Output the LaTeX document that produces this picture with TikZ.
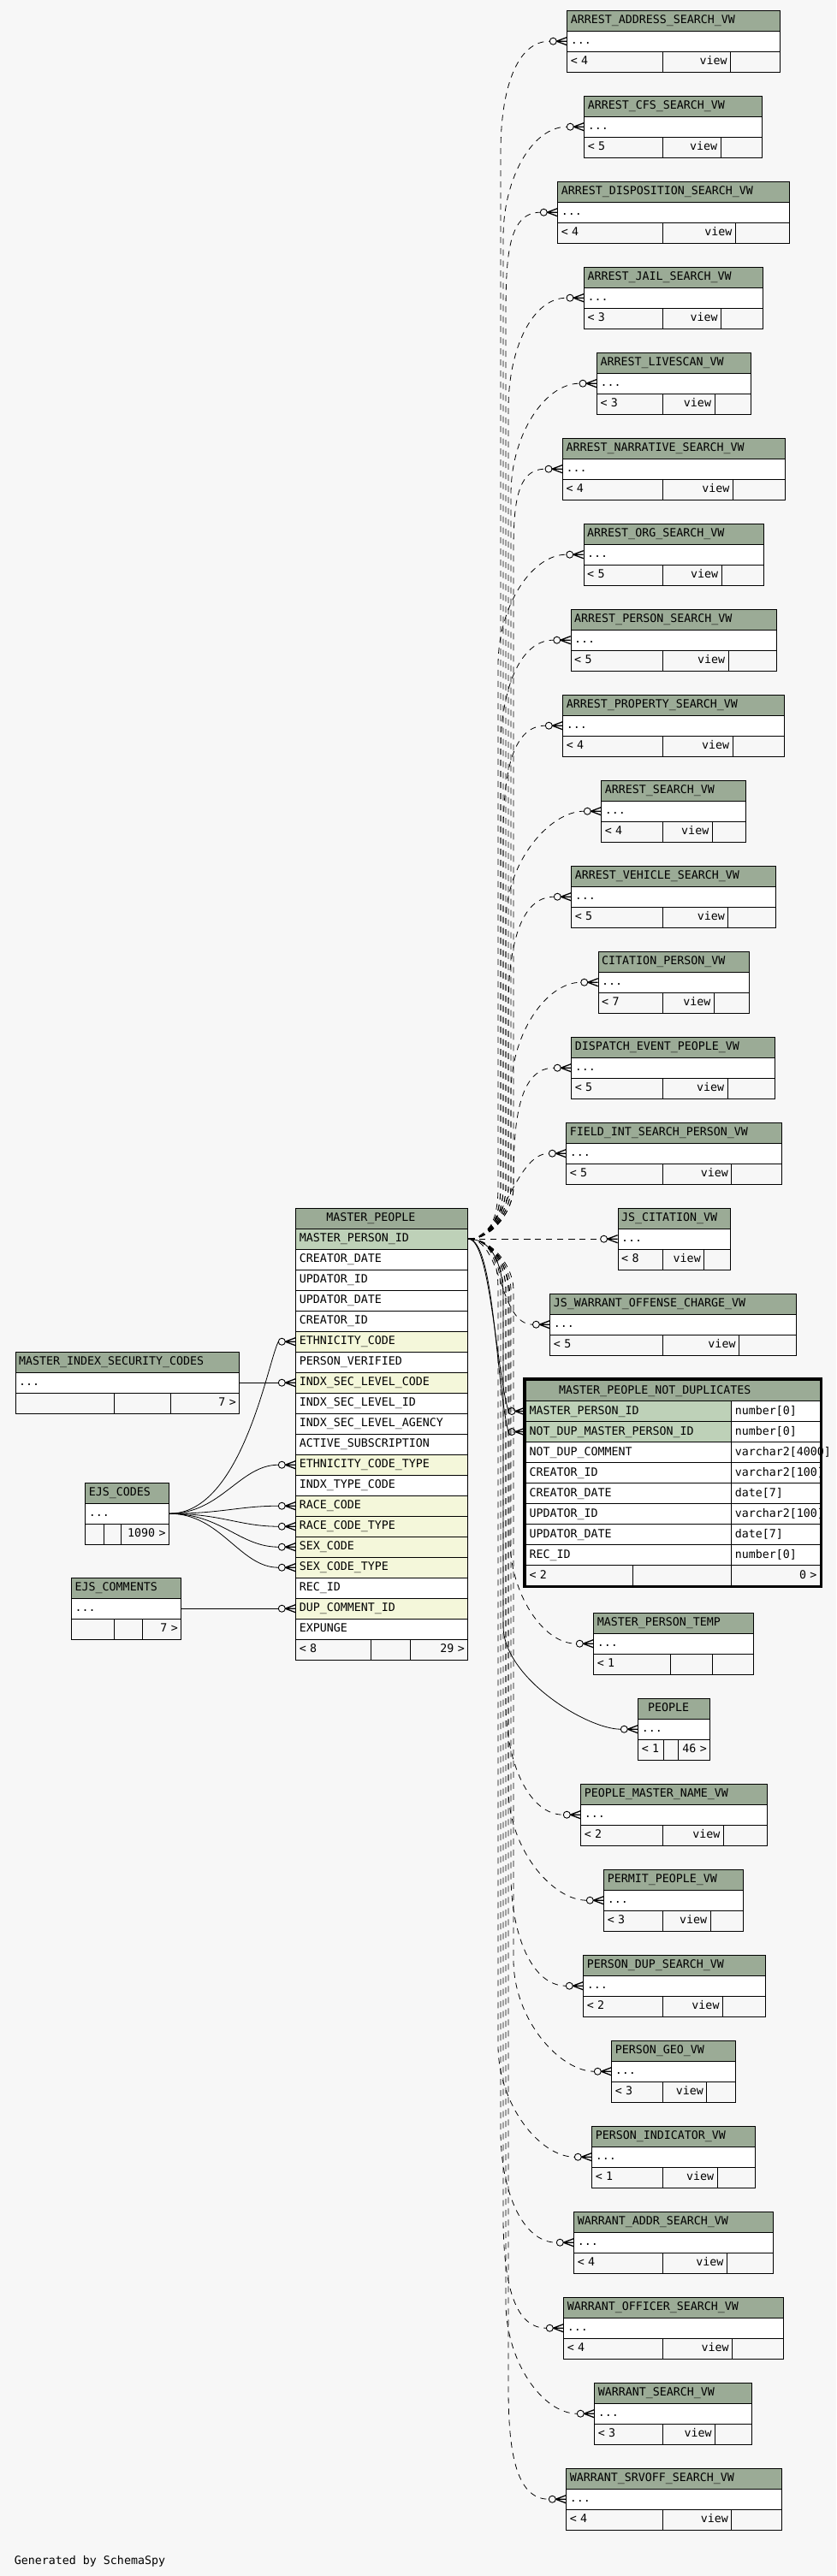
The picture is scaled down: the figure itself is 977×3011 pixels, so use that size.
\documentclass[tikz,border=0pt]{standalone}
\usepackage{fontspec}
\newfontfamily\spyfont{DejaVu Sans Mono}
\definecolor{pagebg}{HTML}{F7F7F7}
\definecolor{headbg}{HTML}{9BAB96}
\definecolor{keybg}{HTML}{BED1B8}
\definecolor{idxbg}{HTML}{F4F7DA}

\def \rowh {24}
\def \srcy {1447.7}

\tikzset{
  cell/.style={draw, line width=1pt, anchor=north west, inner xsep=4pt, inner ysep=0pt,
    minimum height=\rowh, text height=10pt, text depth=3pt, align=left,
    font=\spyfont\fontsize{13.3}{15}\selectfont},
  head/.style={cell, fill=headbg},
  body/.style={cell, fill=white},
  foot/.style={cell, fill=pagebg},
  fk/.style={line width=0.8pt},
  implied/.style={line width=0.8pt, dash pattern=on 7pt off 6pt},
  crowodot/.pic={
    \draw[line width=0.9pt, fill=pagebg] (-16,0) circle[radius=4];
    \draw[line width=1.3pt] (-12,0) -- (0,-4.5) (-12,0) -- (0,0) (-12,0) -- (0,4.5);
  }
}

\newcommand{\tblhead}[5]{\pgfmathsetmacro{\tw}{#4-8}%
  \node[head, text width=\tw pt] (#1) at (#2,#3) {#5};}
\newcommand{\tbldots}[4]{\pgfmathsetmacro{\tw}{#4-8}%
  \node[body, text width=\tw pt] (#1-dots) at (#2,#3+\rowh) {...};}
\newcommand{\footrow}[9]{%
  \pgfmathsetmacro{\wa}{#4-#3-8}\pgfmathsetmacro{\wb}{#5-#4-8}\pgfmathsetmacro{\wc}{#6-#5-8}%
  \node[foot, text width=\wa pt] (#1-f1) at (#3,#2) {#7};
  \node[foot, text width=\wb pt, align=right] (#1-f2) at (#4,#2) {#8};
  \node[foot, text width=\wc pt, align=right] (#1-f3) at (#5,#2) {#9};}

\begin{document}
\begin{tikzpicture}[x=1pt, y=-1pt]
\useasboundingbox (0,0) rectangle (977,3011);
\fill[pagebg] (0,0) rectangle (977,3011);

% MASTER_PEOPLE
\node[head, text width=193pt] (mp) at (345.3,1411.7) {\hspace*{31.5pt}MASTER\_PEOPLE};
\foreach \cname/\cfill [count=\k] in {MASTER\_PERSON\_ID/keybg, CREATOR\_DATE/white, UPDATOR\_ID/white,
  UPDATOR\_DATE/white, CREATOR\_ID/white, ETHNICITY\_CODE/idxbg, PERSON\_VERIFIED/white,
  INDX\_SEC\_LEVEL\_CODE/idxbg, INDX\_SEC\_LEVEL\_ID/white, INDX\_SEC\_LEVEL\_AGENCY/white,
  ACTIVE\_SUBSCRIPTION/white, ETHNICITY\_CODE\_TYPE/idxbg, INDX\_TYPE\_CODE/white,
  RACE\_CODE/idxbg, RACE\_CODE\_TYPE/idxbg, SEX\_CODE/idxbg, SEX\_CODE\_TYPE/idxbg,
  REC\_ID/white, DUP\_COMMENT\_ID/idxbg, EXPUNGE/white}
  \node[cell, fill=\cfill, text width=193pt] (mp-\k) at (345.3,1411.7+\rowh*\k) {\cname};
\footrow{mp}{1915.7}{345.3}{433.2}{479.3}{546.3}{< 8}{}{29 >}

% tables on the left
\tblhead{misc}{17.5}{1579.7}{261.8}{MASTER\_INDEX\_SECURITY\_CODES}
\tbldots{misc}{17.5}{1579.7}{261.8}
\footrow{misc}{1627.7}{17.5}{133.2}{199.3}{279.3}{}{}{7 >}
\tblhead{ejsc}{99.3}{1732.7}{97.8}{EJS\_CODES}
\tbldots{ejsc}{99.3}{1732.7}{97.8}
\footrow{ejsc}{1780.7}{99.3}{121.4}{141.4}{197.1}{}{}{1090 >}
\tblhead{ejsm}{83.2}{1843.7}{128.2}{EJS\_COMMENTS}
\tbldots{ejsm}{83.2}{1843.7}{128.2}
\footrow{ejsm}{1891.7}{83.2}{133.2}{166.4}{211.4}{}{}{7 >}

\draw[fk] (misc-dots.east) -- ([xshift=-20pt]mp-8.west);
\draw[fk] (ejsm-dots.east) -- ([xshift=-20pt]mp-19.west);
\draw[fk] (ejsc-dots.east) .. controls +(85,0) and +(-12,22) .. ([xshift=-20pt]mp-6.west);
\foreach \rr in {12,14,15,16,17}
  \draw[fk] (ejsc-dots.east) .. controls +(60,0) and +(-45,0) .. ([xshift=-20pt]mp-\rr.west);
\foreach \rr in {6,8,12,14,15,16,17,19}
  \pic at (mp-\rr.west) {crowodot};

% MASTER_PEOPLE_NOT_DUPLICATES
\node[head, text width=336pt] (mpnd) at (614,1613) {\hspace*{34.7pt}MASTER\_PEOPLE\_NOT\_DUPLICATES};
\foreach \cname/\cfill/\ctype [count=\k] in {MASTER\_PERSON\_ID/keybg/number[0],
  NOT\_DUP\_MASTER\_PERSON\_ID/keybg/number[0], NOT\_DUP\_COMMENT/white/varchar2[4000],
  CREATOR\_ID/white/varchar2[100], CREATOR\_DATE/white/date[7], UPDATOR\_ID/white/varchar2[100],
  UPDATOR\_DATE/white/date[7], REC\_ID/white/number[0]}{
  \node[cell, fill=\cfill, text width=232.4pt] (mpnd-\k) at (614,1613+\rowh*\k) {\cname};
  \node[body, text width=95.6pt] (mpnd-\k-type) at (854.4,1613+\rowh*\k) {\ctype};
}
\footrow{mpnd}{1829}{614}{739.3}{854.4}{958}{< 2}{}{0 >}
\draw[line width=3pt] (612.5,1611.5) rectangle (959.5,1854.5);
\draw[fk] (mp-1.east) .. controls +(25,0) and +(-15,-55) .. ([xshift=-20pt]mpnd-1.west);
\draw[fk] (mp-1.east) .. controls +(30,0) and +(-15,-60) .. ([xshift=-20pt]mpnd-2.west);
\pic at (mpnd-1.west) {crowodot};
\pic at (mpnd-2.west) {crowodot};

% MASTER_PERSON_TEMP and PEOPLE
\tblhead{mpt}{693.3}{1884.7}{186.7}{MASTER\_PERSON\_TEMP}
\tbldots{mpt}{693.3}{1884.7}{186.7}
\footrow{mpt}{1932.7}{693.3}{783.3}{831.7}{880}{< 1}{}{}
\tblhead{ppl}{745.3}{1984.7}{84}{\hspace*{7.4pt}PEOPLE}
\tbldots{ppl}{745.3}{1984.7}{84}
\footrow{ppl}{2032.7}{745.3}{774.7}{791.7}{829.3}{< 1}{}{46 >}
\draw[implied] (mp-1.east) .. controls +(30,0) and (596,1482.7) .. (596,1517.7) -- (596,1800.7)
  .. controls (596,1860.7) and +(-40,0) .. ([xshift=-20pt]mpt-dots.west);
\draw[fk] (mp-1.east) .. controls +(30,0) and (588,1482.7) .. (588,1517.7) -- (588,1900.7)
  .. controls (588,1960.7) and +(-40,0) .. ([xshift=-20pt]ppl-dots.west);
\pic at (mpt-dots.west) {crowodot};
\pic at (ppl-dots.west) {crowodot};

% views
\foreach \id/\vname/\ytop/\xl/\xr/\cnt [count=\k] in {
  aadr/ARREST\_ADDRESS\_SEARCH\_VW/11.7/662.3/911.3/4,
  acfs/ARREST\_CFS\_SEARCH\_VW/111.7/682.3/890.3/5,
  adisp/ARREST\_DISPOSITION\_SEARCH\_VW/211.7/651.3/922.3/4,
  ajail/ARREST\_JAIL\_SEARCH\_VW/311.7/682/891/3,
  aliv/ARREST\_LIVESCAN\_VW/411.7/697/876.5/3,
  anarr/ARREST\_NARRATIVE\_SEARCH\_VW/511.7/657/916.5/4,
  aorg/ARREST\_ORG\_SEARCH\_VW/611.7/681.7/891.7/5,
  apers/ARREST\_PERSON\_SEARCH\_VW/711.7/666.7/906.7/5,
  aprop/ARREST\_PROPERTY\_SEARCH\_VW/811.7/657.3/916.3/4,
  asrch/ARREST\_SEARCH\_VW/911.7/702.3/871.3/4,
  aveh/ARREST\_VEHICLE\_SEARCH\_VW/1011.7/667.3/906.3/5,
  cit/CITATION\_PERSON\_VW/1111.7/698.7/875.3/7,
  disp/DISPATCH\_EVENT\_PEOPLE\_VW/1211.7/667.3/905.3/5,
  fint/FIELD\_INT\_SEARCH\_PERSON\_VW/1311.7/661.3/913.3/5,
  jscit/JS\_CITATION\_VW/1411.7/721.6/853/8,
  jswoc/JS\_WARRANT\_OFFENSE\_CHARGE\_VW/1511.7/642.4/930.4/5,
  pmn/PEOPLE\_MASTER\_NAME\_VW/2084.7/678.3/895.7/2,
  permit/PERMIT\_PEOPLE\_VW/2184.7/705.3/867.7/3,
  pdup/PERSON\_DUP\_SEARCH\_VW/2284.7/681.3/893.7/2,
  pgeo/PERSON\_GEO\_VW/2384.7/714.3/859.3/3,
  pind/PERSON\_INDICATOR\_VW/2484.7/691.3/882.3/1,
  waddr/WARRANT\_ADDR\_SEARCH\_VW/2584.7/670.3/903.3/4,
  woff/WARRANT\_OFFICER\_SEARCH\_VW/2684.7/658.3/915.3/4,
  wsrch/WARRANT\_SEARCH\_VW/2784.7/694.3/878.3/3,
  wsrv/WARRANT\_SRVOFF\_SEARCH\_VW/2884.7/661.3/913.3/4}{
  \pgfmathsetmacro{\w}{\xr-\xl}
  \pgfmathsetmacro{\dtwo}{\xr-0.234*\w}
  \tblhead{\id}{\xl}{\ytop}{\w}{\vname}
  \tbldots{\id}{\xl}{\ytop}{\w}
  \footrow{\id}{\ytop+48}{\xl}{774}{\dtwo}{\xr}{< \cnt}{view}{}
  \pgfmathsetmacro{\ty}{\ytop+36}
  \pgfmathsetmacro{\dy}{\ty-\srcy}
  \pgfmathtruncatemacro{\far}{abs(\dy)>190}
  \pgfmathsetmacro{\s}{\dy<0 ? -1 : 1}
  \pgfmathsetmacro{\tx}{582+3*mod(\k,7)}
  \pgfmathsetmacro{\ya}{\srcy+35*(\s)}
  \pgfmathsetmacro{\yb}{\srcy+60*(\s)}
  \pgfmathsetmacro{\yc}{\ty-130*(\s)}
  \pgfmathsetmacro{\yd}{\ty-60*(\s)}
  \ifnum\far=1
    \draw[implied] (mp-1.east) .. controls +(30,0) and (\tx,\ya) .. (\tx,\yb) -- (\tx,\yc)
      .. controls (\tx,\yd) and +(-40,0) .. ([xshift=-20pt]\id-dots.west);
  \else
    \draw[implied] (mp-1.east) .. controls +(40,0) and +(-40,0) .. ([xshift=-20pt]\id-dots.west);
  \fi
  \pic at (\id-dots.west) {crowodot};
}

\node[anchor=west, inner sep=0pt, text height=10pt, text depth=3pt,
  font=\spyfont\fontsize{13.3}{15}\selectfont] (credit) at (16.7,2993.5) {Generated by SchemaSpy};
\end{tikzpicture}
\end{document}
